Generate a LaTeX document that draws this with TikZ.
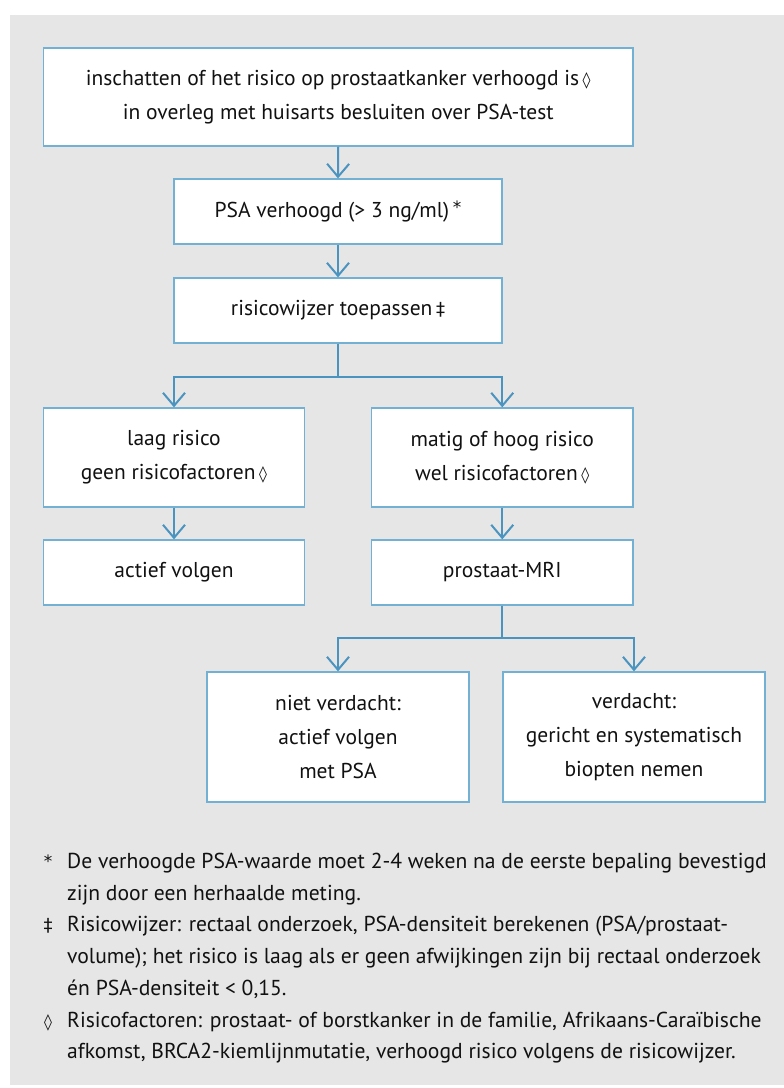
\documentclass[tikz,border=0pt]{standalone}
\usepackage{fontspec}
\setmainfont{PT Sans}
\newfontfamily\symf{DejaVu Sans}
\usetikzlibrary{arrows.meta}
\definecolor{bgc}{HTML}{E6E6E6}
\definecolor{connc}{HTML}{4A94BF}
\definecolor{boxc}{HTML}{72B1D3}
\definecolor{txtc}{HTML}{111111}
\newcommand{\mydia}{\,{\symf\bfseries\fontsize{16}{16}\selectfont ◊}}
\newcommand{\myddg}{\,{\symf\fontsize{18}{18}\selectfont ‡}}
\newcommand{\myast}{\,\raisebox{4pt}{\symf\fontsize{17}{17}\selectfont *}}
\begin{document}
\begin{tikzpicture}[x=1pt,y=-1pt,
  flowbox/.style={draw=boxc, line width=1.3pt, fill=white, inner sep=0pt, align=center,
    text=txtc, font=\fontsize{21.5}{34}\selectfont},
  connline/.style={draw=connc, line width=2pt},
  connarrow/.style={connline, -{Straight Barb[length=13pt,width=22pt]}},
  notetext/.style={anchor=base west, inner sep=0pt, text=txtc, font=\fontsize{21.6}{24}\selectfont},
  notemark/.style={anchor=base, inner sep=0pt, text=txtc, font=\fontsize{21.6}{24}\selectfont}]
\useasboundingbox (0,0) rectangle (784,1088);
\fill[white] (0,0) rectangle (784,1088);
\fill[bgc] (10,15) rectangle (784,1085);

\node[flowbox, minimum width=589.5pt, minimum height=98pt] (b1) at (338.25,97)
  {inschatten of het risico op prostaatkanker verhoogd is\mydia\\in overleg met huisarts besluiten over PSA-test};
\node[flowbox, minimum width=328pt, minimum height=65pt] (b2) at (338,211.5)
  {PSA verhoogd (> 3 ng/ml)\myast};
\node[flowbox, minimum width=328pt, minimum height=65pt] (b3) at (338,310.5)
  {risicowijzer toepassen\myddg};
\node[flowbox, minimum width=261pt, minimum height=99pt] (b4) at (174,457.5)
  {laag risico\\geen risicofactoren\mydia};
\node[flowbox, minimum width=261.5pt, minimum height=99pt] (b5) at (502.25,457.5)
  {matig of hoog risico\\wel risicofactoren\mydia};
\node[flowbox, minimum width=261pt, minimum height=65pt] (b6) at (174,572.5)
  {actief volgen};
\node[flowbox, minimum width=261.5pt, minimum height=65pt] (b7) at (502.25,572.5)
  {prostaat-MRI};
\node[flowbox, minimum width=262pt, minimum height=130pt] (b8) at (338,737)
  {niet verdacht:\\actief volgen\\met PSA};
\node[flowbox, minimum width=262pt, minimum height=130pt] (b9) at (634,737)
  {verdacht:\\gericht en systematisch\\biopten nemen};

\coordinate (j1) at (338,377);
\coordinate (j2) at (502.25,638);
\draw[connarrow] (b1.south) -- (b2.north);
\draw[connarrow] (b2.south) -- (b3.north);
\draw[connline] (b3.south) -- (j1);
\draw[connarrow] (j1) -| (b4.north);
\draw[connarrow] (j1) -| (b5.north);
\draw[connarrow] (b4.south) -- (b6.north);
\draw[connarrow] (b5.south) -- (b7.north);
\draw[connline] (b7.south) -- (j2);
\draw[connarrow] (j2) -| (b8.north);
\draw[connarrow] (j2) -| (b9.north);

\node[notemark] (m1) at (48,867) {\symf\fontsize{17}{17}\selectfont *};
\node[notetext] (n1a) at (67,868) {De verhoogde PSA-waarde moet 2-4 weken na de eerste bepaling bevestigd};
\node[notetext] (n1b) at (67,900) {zijn door een herhaalde meting.};
\node[notemark] (m2) at (48,931) {\symf\fontsize{18}{18}\selectfont ‡};
\node[notetext] (n2a) at (67,931) {Risicowijzer: rectaal onderzoek, PSA-densiteit berekenen (PSA/prostaat-};
\node[notetext] (n2b) at (67,963) {volume); het risico is laag als er geen afwijkingen zijn bij rectaal onderzoek};
\node[notetext] (n2c) at (67,995) {én PSA-densiteit < 0,15.};
\node[notemark] (m3) at (48,1027) {\symf\bfseries\fontsize{16}{16}\selectfont ◊};
\node[notetext] (n3a) at (67,1027) {Risicofactoren: prostaat- of borstkanker in de familie, Afrikaans-Caraïbische};
\node[notetext] (n3b) at (67,1058) {afkomst, BRCA2-kiemlijnmutatie, verhoogd risico volgens de risicowijzer.};
\end{tikzpicture}
\end{document}
